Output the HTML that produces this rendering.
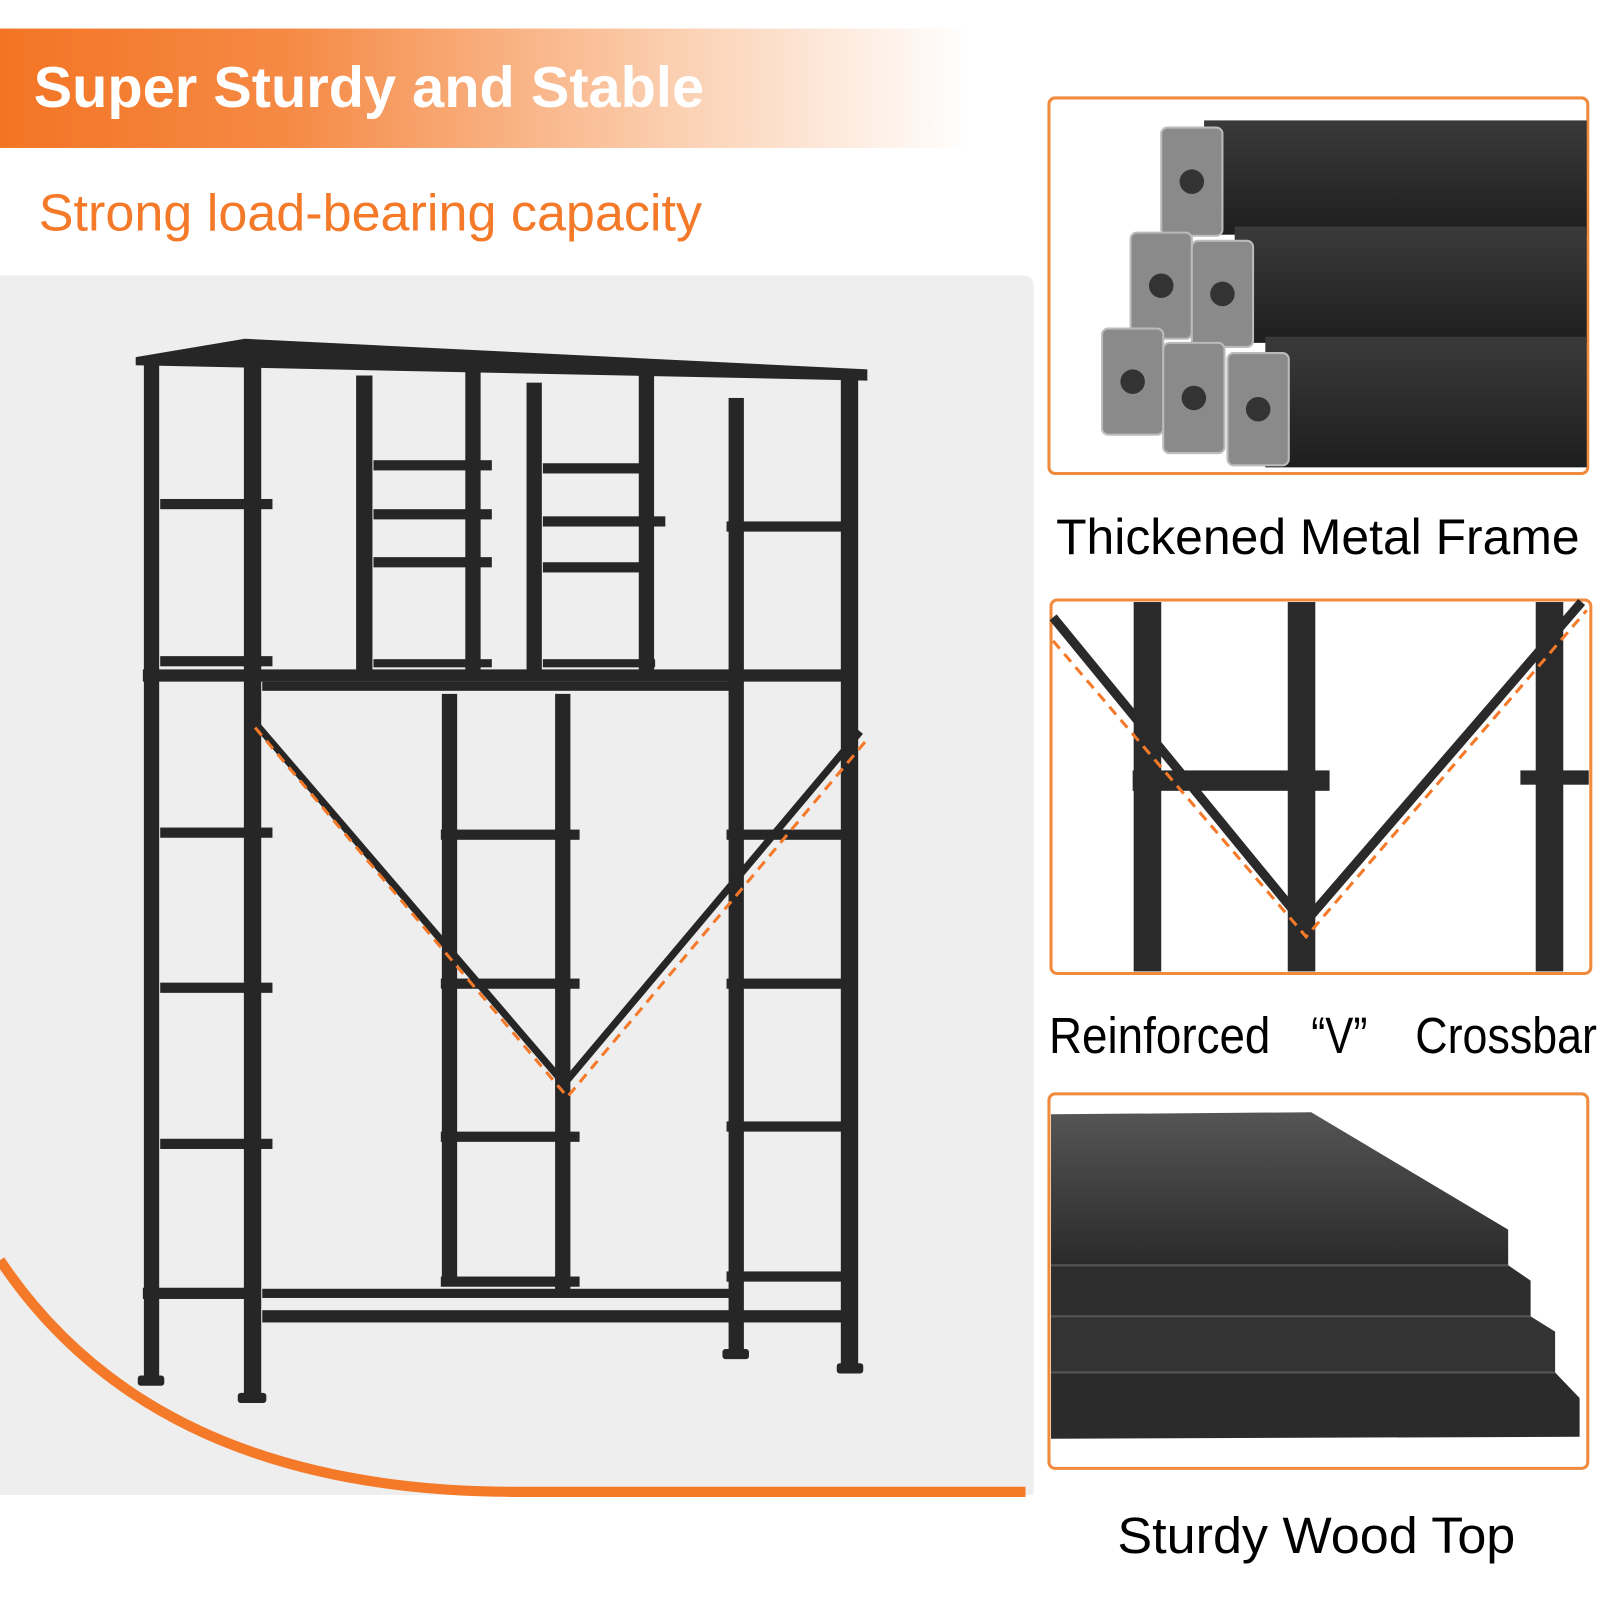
<!DOCTYPE html>
<html><head><style>
html,body{margin:0;padding:0;background:#fff;}
svg{display:block;}
text{font-family:"Liberation Sans",sans-serif;}
</style></head><body>
<svg width="1600" height="1600" viewBox="0 0 1568 1568" xmlns="http://www.w3.org/2000/svg">
<defs>
<linearGradient id="ban" x1="0" x2="1" y1="0" y2="0">
<stop offset="0" stop-color="#f47424"/>
<stop offset="0.3" stop-color="#f58a45"/>
<stop offset="0.7" stop-color="#fbd0b2"/>
<stop offset="1" stop-color="#ffffff"/>
</linearGradient>
<linearGradient id="tube" x1="0" x2="0" y1="0" y2="1">
<stop offset="0" stop-color="#3a3a3a"/><stop offset="1" stop-color="#1e1e1e"/>
</linearGradient>
<linearGradient id="plank" x1="0" x2="0" y1="0" y2="1">
<stop offset="0" stop-color="#555"/><stop offset="1" stop-color="#2a2a2a"/>
</linearGradient>
</defs>
<rect width="1568" height="1568" fill="#fff"/>
<rect x="0" y="28" width="950" height="117" fill="url(#ban)"/>
<text x="33" y="105" font-size="56" font-weight="bold" fill="#fff" textLength="657" lengthAdjust="spacingAndGlyphs">Super Sturdy and Stable</text>
<text x="38" y="226" font-size="51" fill="#f47a2a" textLength="650" lengthAdjust="spacingAndGlyphs">Strong load-bearing capacity</text>
<path d="M0 270 H1003 Q1013 270 1013 280 V1465 H0 Z" fill="#eeeeee"/>
<path d="M0 1235 Q150 1460 500 1462 L1005 1462" fill="none" stroke="#f47a2a" stroke-width="10"/>
<g fill="#262626">
<polygon points="133,350 240,332 850,362 850,373 133,358"/>
<rect x="141" y="355" width="15" height="1000"/>
<rect x="239" y="350" width="17" height="1020"/>
<rect x="349" y="368" width="16" height="290"/>
<rect x="456" y="355" width="15" height="305"/>
<rect x="516" y="375" width="15" height="285"/>
<rect x="626" y="360" width="15" height="300"/>
<rect x="714" y="390" width="15" height="935"/>
<rect x="824" y="372" width="17" height="970"/>
<rect x="433" y="680" width="15" height="580"/>
<rect x="544" y="680" width="15" height="590"/>
<rect x="140" y="656" width="693" height="12"/>
<rect x="257" y="668" width="460" height="9"/>
<rect x="140" y="1262" width="100" height="11"/>
<rect x="257" y="1284" width="580" height="12"/>
<rect x="257" y="1263" width="460" height="9"/>
<rect x="135" y="1348" width="26" height="10" rx="3"/>
<rect x="233" y="1365" width="28" height="10" rx="3"/>
<rect x="708" y="1322" width="26" height="10" rx="3"/>
<rect x="820" y="1336" width="26" height="10" rx="3"/>
<rect x="157" y="489" width="110" height="10"/>
<rect x="157" y="643" width="110" height="10"/>
<rect x="157" y="811" width="110" height="10"/>
<rect x="157" y="963" width="110" height="10"/>
<rect x="157" y="1116" width="110" height="10"/>
<rect x="712" y="511" width="118" height="10"/>
<rect x="712" y="813" width="118" height="10"/>
<rect x="712" y="959" width="118" height="10"/>
<rect x="712" y="1099" width="118" height="10"/>
<rect x="712" y="1246" width="118" height="10"/>
<rect x="432" y="813" width="136" height="10"/>
<rect x="432" y="959" width="136" height="10"/>
<rect x="432" y="1109" width="136" height="10"/>
<rect x="432" y="1251" width="136" height="10"/>
<rect x="366" y="451" width="116" height="10"/>
<rect x="366" y="499" width="116" height="10"/>
<rect x="366" y="546" width="116" height="10"/>
<rect x="366" y="646" width="116" height="8"/>
<rect x="532" y="454" width="96" height="10"/>
<rect x="532" y="506" width="120" height="10"/>
<rect x="532" y="551" width="96" height="10"/>
<rect x="532" y="646" width="110" height="8"/>
</g>
<line x1="247" y1="705" x2="553" y2="1062" stroke="#262626" stroke-width="7"/>
<line x1="553" y1="1062" x2="843" y2="717" stroke="#262626" stroke-width="7"/>
<polyline points="250,713 556,1075 852,722" fill="none" stroke="#f47a2a" stroke-width="3" stroke-dasharray="10,7"/>
<rect x="1028" y="96" width="528" height="368" rx="6" fill="#fff" stroke="#f08a3c" stroke-width="3"/>
<g>
<rect x="1180" y="118" width="375" height="112" fill="url(#tube)"/>
<rect x="1210" y="222" width="345" height="114" fill="url(#tube)"/>
<rect x="1240" y="330" width="315" height="128" fill="url(#tube)"/>
<g fill="#8a8a8a" stroke="#bbb" stroke-width="2">
<rect x="1138" y="125" width="60" height="106" rx="6"/>
<rect x="1108" y="228" width="60" height="104" rx="6"/>
<rect x="1168" y="236" width="60" height="104" rx="6"/>
<rect x="1080" y="322" width="60" height="104" rx="6"/>
<rect x="1140" y="336" width="60" height="108" rx="6"/>
<rect x="1203" y="346" width="60" height="110" rx="6"/>
</g>
<g fill="#333">
<circle cx="1168" cy="178" r="12"/><circle cx="1138" cy="280" r="12"/><circle cx="1198" cy="288" r="12"/>
<circle cx="1110" cy="374" r="12"/><circle cx="1170" cy="390" r="12"/><circle cx="1233" cy="401" r="12"/>
</g>
</g>
<text x="1035" y="543" font-size="49" fill="#000" textLength="513" lengthAdjust="spacingAndGlyphs">Thickened Metal Frame</text>
<rect x="1030" y="588" width="529" height="366" rx="6" fill="#fff" stroke="#f08a3c" stroke-width="3"/>
<g fill="#2a2a2a">
<rect x="1111" y="590" width="27" height="362"/>
<rect x="1262" y="590" width="27" height="362"/>
<rect x="1505" y="590" width="27" height="362"/>
<rect x="1110" y="755" width="193" height="20"/>
<rect x="1490" y="755" width="67" height="14"/>
</g>
<polyline points="1032,605 1278,905 1550,590" fill="none" stroke="#2a2a2a" stroke-width="9"/>
<polyline points="1032,628 1280,918 1555,598" fill="none" stroke="#f47a2a" stroke-width="3" stroke-dasharray="10,7"/>
<text x="1028" y="1032" font-size="50" fill="#000" textLength="217" lengthAdjust="spacingAndGlyphs">Reinforced</text>
<text x="1285" y="1032" font-size="50" fill="#000" textLength="55" lengthAdjust="spacingAndGlyphs">“V”</text>
<text x="1387" y="1032" font-size="50" fill="#000" textLength="178" lengthAdjust="spacingAndGlyphs">Crossbar</text>
<rect x="1028" y="1072" width="528" height="367" rx="6" fill="#fff" stroke="#f08a3c" stroke-width="3"/>
<polygon points="1030,1092 1285,1090 1478,1205 1478,1240 1030,1240" fill="url(#plank)"/>
<polygon points="1030,1240 1478,1240 1500,1255 1500,1290 1030,1290" fill="#2e2e2e"/>
<polygon points="1030,1290 1500,1290 1524,1305 1524,1345 1030,1345" fill="#333"/>
<polygon points="1030,1345 1524,1345 1548,1370 1548,1408 1030,1410" fill="#2b2b2b"/>
<g stroke="#555" stroke-width="2">
<line x1="1030" y1="1240" x2="1478" y2="1240"/>
<line x1="1030" y1="1290" x2="1500" y2="1290"/>
<line x1="1030" y1="1345" x2="1524" y2="1345"/>
</g>
<text x="1095" y="1522" font-size="50" fill="#000" textLength="390" lengthAdjust="spacingAndGlyphs">Sturdy Wood Top</text>
</svg>
</body></html>
